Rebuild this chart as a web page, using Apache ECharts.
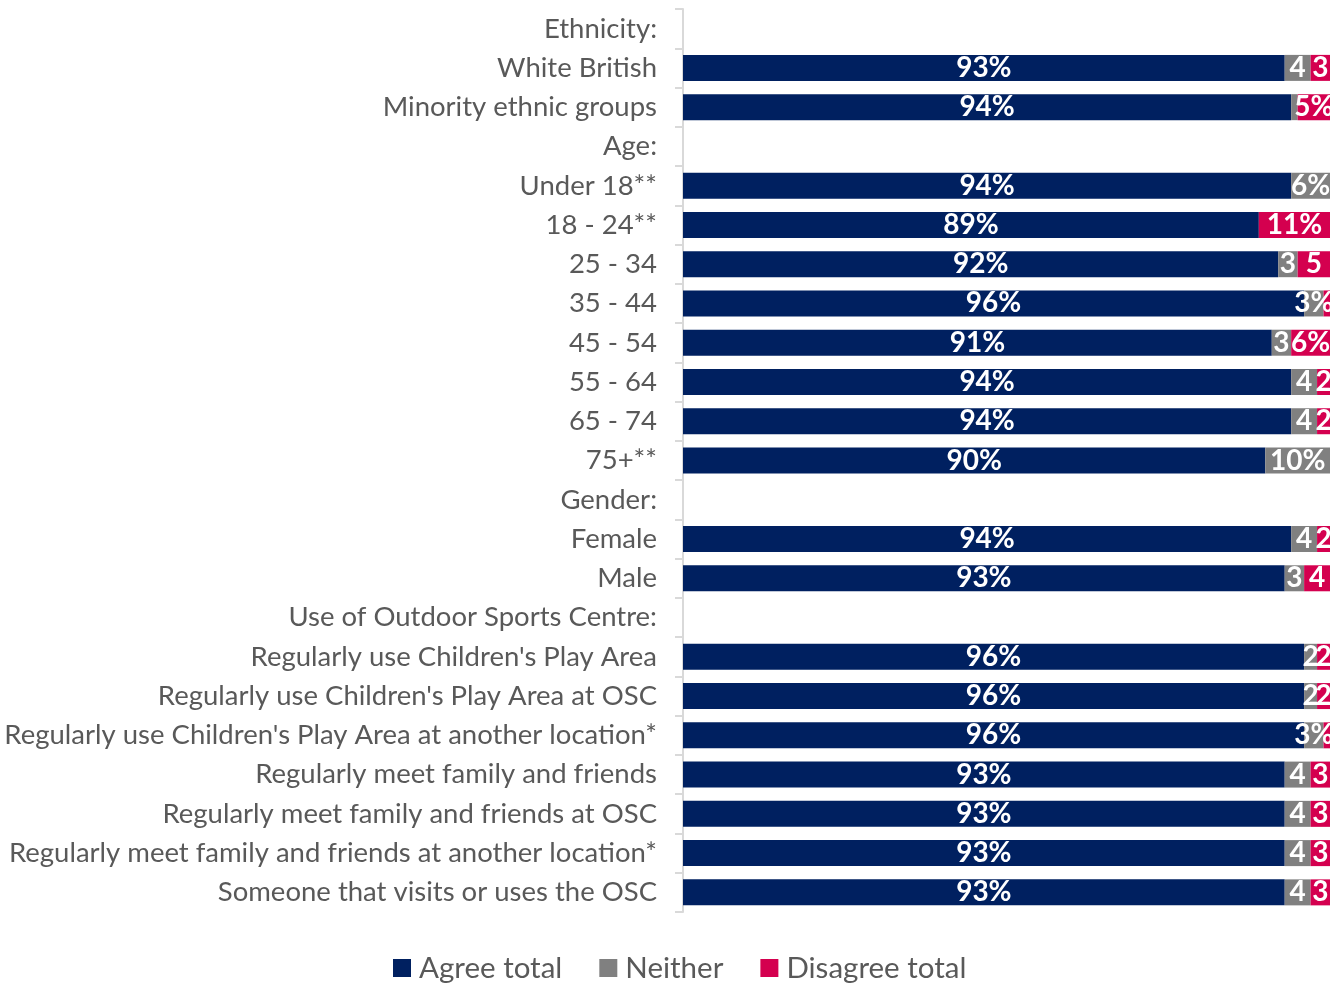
<!DOCTYPE html>
<html>
<head>
<meta charset="utf-8">
<script src="https://cdn.jsdelivr.net/npm/echarts@6/dist/echarts.min.js"></script>
<style>
  html, body { margin: 0; padding: 0; background: #fff; }
  #chart { width: 1332px; height: 987px; }
</style>
</head>
<body>
<div id="chart"></div>
<script>
const categories = [
  "Ethnicity:", "White British", "Minority ethnic groups",
  "Age:", "Under 18**", "18 - 24**", "25 - 34", "35 - 44", "45 - 54", "55 - 64", "65 - 74", "75+**",
  "Gender:", "Female", "Male",
  "Use of Outdoor Sports Centre:",
  "Regularly use Children's Play Area",
  "Regularly use Children's Play Area at OSC",
  "Regularly use Children's Play Area at another location*",
  "Regularly meet family and friends",
  "Regularly meet family and friends at OSC",
  "Regularly meet family and friends at another location*",
  "Someone that visits or uses the OSC"
];
const agreeValues = [null, 93, 94, null, 94, 89, 92, 96, 91, 94, 94, 90, null, 94, 93, null, 96, 96, 96, 93, 93, 93, 93];
const neitherValues = [null, 4, 1, null, 6, 0, 3, 3, 3, 4, 4, 10, null, 4, 3, null, 2, 2, 3, 4, 4, 4, 4];
const disagreeValues = [null, 3, 5, null, 0, 11, 5, 1, 6, 2, 2, 0, null, 2, 4, null, 2, 2, 1, 3, 3, 3, 3];
const neitherLabels = ["", "4", "", "", "6%", "", "3", "3%", "3", "4", "4", "10%", "", "4", "3", "", "2", "2", "3%", "4", "4", "4", "4"];
const disagreeLabels = ["", "3", "5%", "", "", "11%", "5", "", "6%", "2", "2", "", "", "2", "4", "", "2", "2", "", "3", "3", "3", "3"];

const fontFamily = "Lato, 'Noto Sans', sans-serif";
const labelStyle = {
  show: true,
  position: "inside",
  color: "#fff",
  fontWeight: "bold",
  fontSize: 28,
  fontFamily: fontFamily
};

var myChart = echarts.init(document.getElementById("chart"));
const option = {
  animation: false,
  grid: { left: 683, right: 2, top: 9, bottom: 75 },
  legend: {
    top: 948,
    left: 388,
    itemWidth: 18,
    itemHeight: 18,
    itemGap: 37,
    icon: "rect",
    textStyle: { color: "#595959", fontSize: 29.5, fontFamily: fontFamily, padding: [0, 0, 0, 3] },
    data: ["Agree total", "Neither", "Disagree total"]
  },
  xAxis: { type: "value", min: 0, max: 100, show: false },
  yAxis: {
    type: "category",
    inverse: true,
    data: categories,
    axisLine: { show: true, lineStyle: { color: "#D9D9D9", width: 2 } },
    axisTick: { show: true, length: 8, lineStyle: { color: "#D9D9D9", width: 2 } },
    axisLabel: { color: "#595959", fontSize: 27.5, fontFamily: fontFamily, margin: 26 }
  },
  series: [
    {
      name: "Agree total",
      type: "bar",
      stack: "total",
      barWidth: 26,
      itemStyle: { color: "#002060" },
      label: Object.assign({}, labelStyle, {
        formatter: (p) => (p.value == null ? "" : p.value + "%")
      }),
      data: agreeValues
    },
    {
      name: "Neither",
      type: "bar",
      stack: "total",
      barWidth: 26,
      itemStyle: { color: "#808080" },
      label: Object.assign({}, labelStyle, {
        formatter: (p) => neitherLabels[p.dataIndex]
      }),
      data: neitherValues
    },
    {
      name: "Disagree total",
      type: "bar",
      stack: "total",
      barWidth: 26,
      itemStyle: { color: "#D4004F" },
      label: Object.assign({}, labelStyle, {
        formatter: (p) => disagreeLabels[p.dataIndex]
      }),
      data: disagreeValues
    }
  ]
};
myChart.setOption(option);
</script>
</body>
</html>
